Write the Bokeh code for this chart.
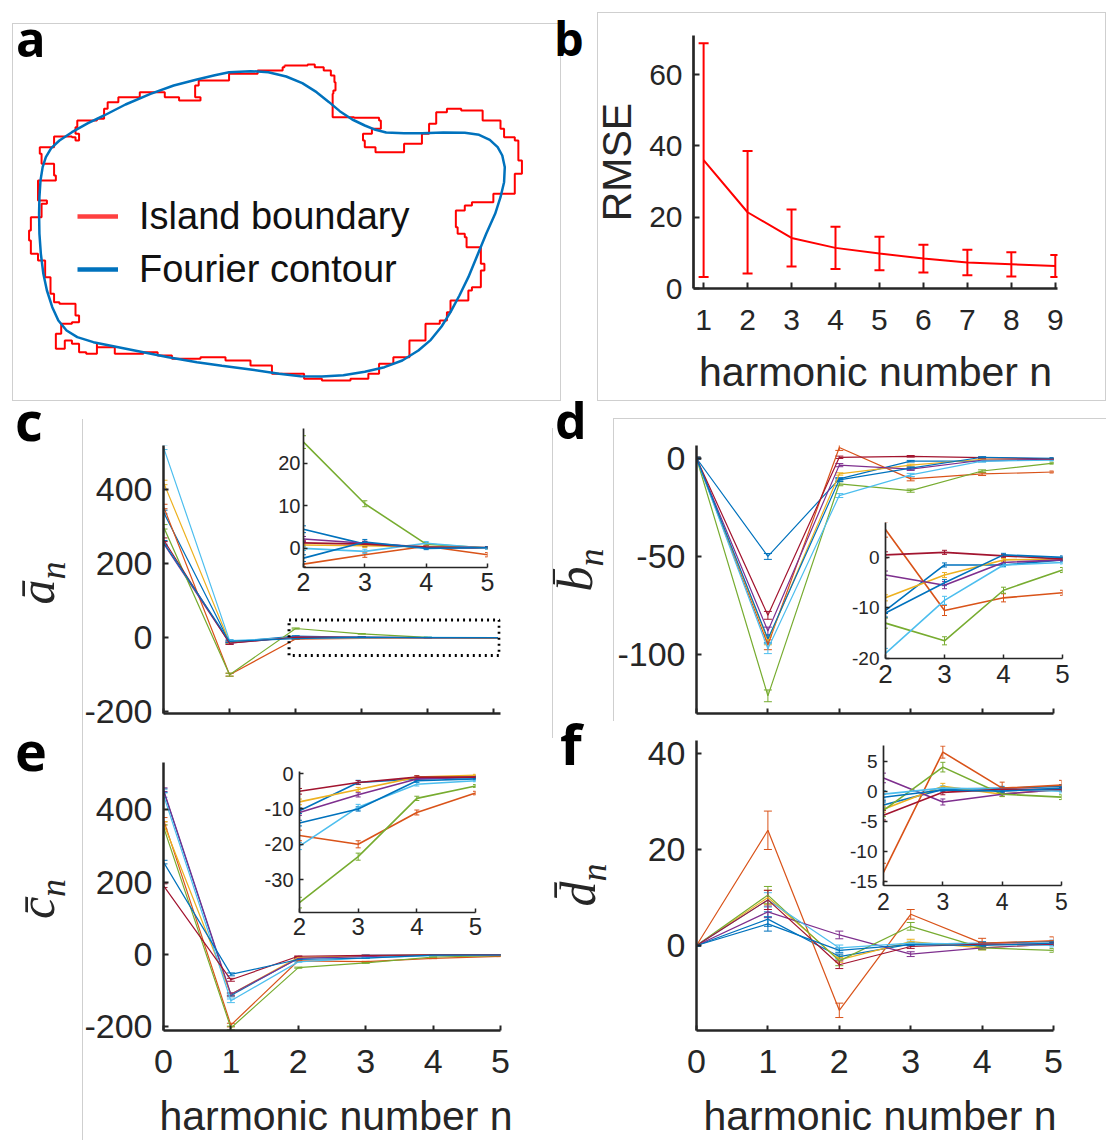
from bokeh.plotting import figure
from bokeh.models import (ColumnDataSource, Range1d, FixedTicker, Whisker, TeeHead,
                          Legend, LegendItem, BoxAnnotation, Div, GridBox)
from bokeh.embed import file_html
from bokeh.resources import INLINE

# ---------------- data ----------------
# panel a: traced island boundary and its Fourier contour (image units, y downward)
ISLAND_X = [795, 860, 880, 905, 925, 935, 938, 932, 930, 990, 1060, 1065, 1040, 1015, 1020, 1050, 1120, 1130,
            1180, 1200, 1220, 1250, 1290, 1350, 1400, 1410, 1440, 1450, 1460, 1440, 1440, 1380, 1320, 1300,
            1275, 1280, 1300, 1305, 1345, 1355, 1345, 1320, 1310, 1260, 1250, 1230, 1190, 1145, 1100, 1060,
            1030, 980, 900, 850, 760, 700, 630, 560, 480, 440, 400, 320, 270, 270, 240, 220, 200, 180, 155,
            170, 200, 220, 210, 165, 150, 140, 125, 105, 85, 80, 85, 115, 130, 105, 105, 155, 150, 115, 110,
            150, 200, 210, 220, 210, 215, 270, 290, 300, 330, 390, 420, 460, 500, 550, 560, 545, 555, 600,
            640, 720, 790, 795]
ISLAND_Y = [195, 192, 200, 210, 225, 245, 270, 280, 350, 352, 360, 385, 400, 420, 440, 455, 455, 430,
            400, 370, 335, 325, 330, 360, 385, 410, 420, 480, 520, 560, 580, 605, 615, 630,
            680, 700, 710, 740, 790, 810, 860, 870, 900, 935, 960, 970, 1020, 1070, 1090, 1120,
            1135, 1140, 1135, 1120, 1095, 1080, 1070, 1075, 1065, 1055, 1060, 1040, 1030, 1060, 1055, 1030, 1020, 1045, 1000,
            970, 965, 945, 910, 905, 880, 830, 780, 760, 720, 690, 650, 610, 600, 580, 540, 525, 490, 460, 440,
            408, 410, 420, 400, 380, 360, 355, 325, 305, 290, 275, 275, 290, 300, 300, 290, 255, 240, 240,
            220, 210, 200, 195]
FOURIER_X = [108, 109, 112, 118, 127, 142, 165, 200, 245, 290, 350, 420, 485, 550, 600, 640, 700, 750, 800, 845,
             885, 920, 950, 985, 1020, 1050, 1080, 1130, 1180, 1240, 1300, 1340, 1370, 1392, 1405, 1412, 1410,
             1400, 1385, 1360, 1335, 1310, 1285, 1260, 1235, 1205, 1170, 1125, 1075, 1020, 960, 900, 840, 780,
             700, 620, 550, 470, 400, 330, 260, 215, 185, 162, 145, 130, 120, 113, 109, 108]
FOURIER_Y = [640, 590, 540, 500, 470, 443, 420, 395, 368, 345, 312, 280, 255, 237, 224, 215, 212, 215, 228, 248,
             275, 305, 332, 357, 375, 388, 396, 398, 398, 396, 397, 403, 418, 440, 465, 500, 545,
             590, 640, 700, 765, 830, 885, 935, 978, 1018, 1050, 1080, 1100, 1114, 1124, 1128, 1127, 1120,
             1107, 1096, 1085, 1070, 1055, 1040, 1025, 1010, 990, 960, 920, 870, 820, 760, 700, 640]

# panel b
RMSE_N = [1, 2, 3, 4, 5, 6, 7, 8, 9]
RMSE = [36.0, 21.4, 14.2, 11.4, 9.8, 8.4, 7.3, 6.8, 6.3]
RMSE_ERR = [32.8, 17.2, 8.0, 5.9, 4.7, 3.9, 3.6, 3.4, 3.1]

# panels c-f: 8 series, harmonics 0..5
HARMONICS = [0, 1, 2, 3, 4, 5]
COLORS = ["#0072BD", "#D95319", "#EDB120", "#7E2F8E", "#77AC30", "#4DBEEE", "#A2142F", "#0072BD"]

A_MEAN = [[340, -12, 4.5, 1.0, 0.2, 0.1],
          [355, -100, -3.7, -1.5, 0.5, -1.5],
          [420, -12, 0.8, 0.6, 0.4, 0.1],
          [255, -15, 2.2, 1.2, 0.3, 0.1],
          [300, -100, 25.0, 10.5, 1.0, 0.1],
          [515, -8, 0.0, -0.7, 1.2, 0.0],
          [265, -15, 1.3, 1.0, 0.3, 0.2],
          [258, -10, -2.3, 1.5, 0.0, 0.2]]
A_ERR = [[5, 3, 0.8, 0.6, 0.3, 0.2],
         [6, 4, 0.6, 0.6, 0.3, 0.5],
         [6, 3, 0.5, 0.4, 0.3, 0.2],
         [5, 3, 0.6, 0.5, 0.3, 0.2],
         [6, 4, 1.5, 0.7, 0.4, 0.2],
         [6, 3, 0.5, 0.5, 0.4, 0.2],
         [5, 3, 0.5, 0.5, 0.3, 0.2],
         [5, 3, 0.8, 0.6, 0.3, 0.2]]

B_MEAN = [[0, -50, -10.5, -1.5, -1.5, -0.5],
          [0, -95, 5.5, -10.5, -8.0, -7.0],
          [0, -93, -8.0, -3.5, -0.5, -0.3],
          [0, -88, -3.5, -5.5, -1.0, -0.5],
          [0, -121, -13.0, -16.5, -6.5, -2.5],
          [0, -97, -19.0, -8.5, -1.5, -1.0],
          [0, -80, 0.5, 1.0, 0.3, -0.3],
          [0, -92, -11.0, -5.0, 0.5, 0.0]]
B_ERR = [[0.5, 1.5, 0.6, 0.4, 0.3, 0.3],
         [0.5, 2.5, 1.5, 1.0, 0.8, 0.5],
         [0.5, 2.0, 0.6, 0.5, 0.3, 0.3],
         [0.5, 2.0, 0.8, 0.7, 0.4, 0.3],
         [0.5, 3.0, 1.0, 0.8, 0.6, 0.5],
         [0.5, 2.5, 1.0, 0.8, 0.4, 0.3],
         [0.5, 2.0, 0.6, 0.4, 0.3, 0.3],
         [0.5, 2.0, 0.8, 0.6, 0.3, 0.3]]

C_MEAN = [[452, -113, -10.5, -2.5, -1.5, -1.0],
          [372, -195, -17.5, -20.0, -11.0, -5.5],
          [362, -110, -8.0, -4.5, -1.0, -0.5],
          [455, -110, -11.0, -6.0, -1.5, -1.0],
          [352, -203, -36.5, -23.5, -7.0, -3.5],
          [440, -128, -20.5, -9.5, -3.0, -2.0],
          [190, -70, -5.0, -2.5, -1.0, -1.0],
          [255, -55, -14.0, -10.0, -2.0, -1.5]]
C_ERR = [[5, 4, 0.8, 0.6, 0.4, 0.3],
         [6, 5, 1.5, 1.0, 0.7, 0.5],
         [5, 4, 0.8, 0.6, 0.4, 0.3],
         [5, 4, 0.8, 0.6, 0.4, 0.3],
         [6, 5, 1.5, 1.0, 0.6, 0.4],
         [6, 5, 1.0, 0.8, 0.5, 0.3],
         [5, 4, 0.8, 0.5, 0.4, 0.3],
         [5, 4, 0.8, 0.6, 0.4, 0.3]]

D_MEAN = [[0, 5.5, -2.3, 0.3, 0.5, 0.8],
          [0, 24.0, -13.5, 6.5, 0.5, 1.0],
          [0, 10.0, -3.0, 0.8, -0.5, 0.3],
          [0, 7.0, 2.2, -1.8, -0.5, 0.3],
          [0, 10.5, -3.2, 4.0, -0.5, -1.0],
          [0, 9.5, -0.5, 0.5, 0.3, 0.0],
          [0, 9.5, -4.0, -0.2, 0.3, 0.3],
          [0, 4.5, -1.0, 0.2, 0.0, 0.5]]
D_ERR = [[0.2, 1.5, 0.5, 0.3, 0.3, 0.3],
         [0.2, 4.0, 1.5, 1.0, 1.0, 0.8],
         [0.2, 1.5, 0.5, 0.5, 0.4, 0.3],
         [0.2, 1.2, 0.8, 0.5, 0.3, 0.3],
         [0.2, 1.8, 1.0, 0.8, 0.4, 0.4],
         [0.2, 1.5, 0.6, 0.4, 0.3, 0.3],
         [0.2, 2.0, 0.8, 0.4, 0.3, 0.3],
         [0.2, 1.5, 0.5, 0.3, 0.3, 0.3]]

XLABEL = "harmonic number n"
YLABELS = ["\u0101", "b\u0304", "c\u0304", "d\u0304"]  # mean coefficient symbols, subscript n

# ---------------- styling helpers ----------------
AX = "#262626"
FONT = "Liberation Sans"
MATHFONT = "Liberation Serif"
items = []  # (model, x0, y0, x1, y1) in page pixels


def make_fig(canvas, frame, xr, yr, axes=True):
    cx0, cy0, cx1, cy1 = canvas
    fx0, fy0, fx1, fy1 = frame
    kw = {}
    if not axes:
        kw = dict(x_axis_location=None, y_axis_location=None)
    p = figure(width=cx1 - cx0, height=cy1 - cy0, x_range=Range1d(*xr), y_range=Range1d(*yr),
               output_backend="svg", toolbar_location=None,
               min_border_left=fx0 - cx0, min_border_right=cx1 - fx1,
               min_border_top=fy0 - cy0, min_border_bottom=cy1 - fy1, **kw)
    p.outline_line_color = None
    p.grid.visible = False
    p.background_fill_alpha = 0
    p.border_fill_alpha = 0
    items.append((p, cx0, cy0, cx1, cy1))
    return p


def style_axes(p, xticks, yticks, tick_font, xstand, ystand, ax_w=2.5, tick_in=5, xtick_font=None):
    for ax in (p.xaxis[0], p.yaxis[0]):
        ax.axis_line_color = AX
        ax.axis_line_width = ax_w
        ax.major_tick_line_color = AX
        ax.major_tick_line_width = 2 if ax_w > 2 else 1.5
        ax.major_tick_in = tick_in
        ax.major_tick_out = 0
        ax.minor_tick_line_color = None
        ax.major_label_text_color = AX
        ax.major_label_text_font = FONT
        ax.major_label_text_font_size = tick_font
        ax.axis_label_text_color = AX
        ax.axis_label_text_font = FONT
        ax.axis_label_text_font_size = "41px"
        ax.axis_label_text_font_style = "normal"
    if xtick_font:
        p.xaxis[0].major_label_text_font_size = xtick_font
    p.xaxis[0].ticker = FixedTicker(ticks=xticks)
    p.yaxis[0].ticker = FixedTicker(ticks=yticks)
    p.yaxis[0].major_label_overrides = {t: f"{t:g}" for t in yticks}
    p.xaxis[0].major_label_standoff = xstand
    p.yaxis[0].major_label_standoff = ystand


def add_series(p, xs, ys, es, color, lw, cap, cw):
    src = ColumnDataSource(dict(x=xs, y=ys, lo=[y - e for y, e in zip(ys, es)],
                                hi=[y + e for y, e in zip(ys, es)]))
    p.line("x", "y", source=src, line_color=color, line_width=lw)
    w = Whisker(base="x", lower="lo", upper="hi", source=src, line_color=color, line_width=cw,
                upper_head=TeeHead(size=cap, line_color=color, line_width=cw),
                lower_head=TeeHead(size=cap, line_color=color, line_width=cw))
    p.add_layout(w)


# ---------------- panel a ----------------
pa = make_fig((7, 18, 555, 395), (7, 18, 555, 395), (19.6, 1554), (1185, 54), axes=False)
pa.step(ISLAND_X, ISLAND_Y, mode="after", line_color="#ff0000", line_width=2)
pa.line(FOURIER_X, FOURIER_Y, line_color="#0072BD", line_width=2.5)
nan = float("nan")
dr = pa.line([nan], [nan], line_color="#ff4040", line_width=4.5)
db = pa.line([nan], [nan], line_color="#0072BD", line_width=4.5)
leg = Legend(items=[LegendItem(label="Island boundary", renderers=[dr]),
                    LegendItem(label="Fourier contour", renderers=[db])],
             location=(70, 104), glyph_width=41, glyph_height=44, label_height=44, spacing=9,
             label_standoff=21, padding=0, margin=0, border_line_alpha=0, background_fill_alpha=0,
             label_text_font=FONT, label_text_font_size="38px", label_text_color="#111111")
pa.add_layout(leg)

# ---------------- panel b ----------------
pb = make_fig((560, 7, 1100, 410), (693, 35, 1057, 288), (0.77, 9.05), (0, 71))
style_axes(pb, RMSE_N, [0, 20, 40, 60], "30px", 21, 11, ax_w=2.7, tick_in=6)
pb.xaxis[0].axis_label = XLABEL
pb.xaxis[0].axis_label_standoff = 16
pb.yaxis[0].axis_label = "RMSE"
pb.yaxis[0].axis_label_standoff = 6
add_series(pb, RMSE_N, RMSE, RMSE_ERR, "#ff0000", 2, 10, 2)


def main_panel(canvas, frame, xr, yr, yticks, means, errs, show_x):
    p = make_fig(canvas, frame, xr, yr)
    style_axes(p, HARMONICS, yticks, "34px", 19 if show_x else 0, 11)
    if not show_x:
        p.xaxis[0].major_label_overrides = {h: "" for h in HARMONICS}
    for m, e, c in zip(means, errs, COLORS):
        add_series(p, HARMONICS, m, e, c, 1.2, 8, 1)
    return p


def inset_panel(canvas, frame, yr, yticks, means, errs, yfont, xfont, xst, yst):
    p = make_fig(canvas, frame, (2, 5), yr)
    style_axes(p, [2, 3, 4, 5], yticks, yfont, xst, yst, ax_w=1.7, tick_in=4, xtick_font=xfont)
    for m, e, c in zip(means, errs, COLORS):
        add_series(p, HARMONICS[2:], m[2:], e[2:], c, 1.6, 5, 1)
    return p


pc = main_panel((10, 400, 548, 760), (163, 445, 507, 713), (0, 5.1), (-205, 520), [-200, 0, 200, 400],
                A_MEAN, A_ERR, False)
pc.add_layout(BoxAnnotation(left=1.9, right=5.08, bottom=-48, top=48, fill_alpha=0, line_alpha=1,
                            line_color="black", line_width=3, line_dash="dotted"))
pd = main_panel((548, 400, 1106, 760), (696, 442, 1053, 713), (0, 5), (-130, 6.5), [-100, -50, 0],
                B_MEAN, B_ERR, False)
pe = main_panel((10, 738, 548, 1140), (163, 762, 500, 1030), (0, 5), (-210, 530), [-200, 0, 200, 400],
                C_MEAN, C_ERR, True)
pf = main_panel((548, 725, 1106, 1140), (696, 740, 1053, 1033), (0, 5), (-17.7, 42.7), [0, 20, 40],
                D_MEAN, D_ERR, True)

inset_panel((265, 420, 495, 612), (303, 428, 487, 567), (-4.5, 28.2), [0, 10, 20],
            A_MEAN, A_ERR, "20px", "25px", 5, 3)
inset_panel((845, 512, 1070, 700), (885, 522, 1062, 658), (-20, 6.9), [-20, -10, 0],
            B_MEAN, B_ERR, "19px", "26px", 6, 6)
inset_panel((255, 760, 482, 955), (299, 771, 475, 912), (-39.3, 0.6), [-30, -20, -10, 0],
            C_MEAN, C_ERR, "20px", "24px", 5, 6)
inset_panel((840, 732, 1068, 930), (883, 745, 1061, 885), (-15.7, 7.6), [-15, -10, -5, 0, 5],
            D_MEAN, D_ERR, "19px", "23px", 7, 6)

# x-axis titles of the bottom row
for cx in (331, 875):
    d = Div(text=XLABEL, width=400, height=45,
            styles={"font-family": FONT, "font-size": "41px", "line-height": "1", "color": AX,
                    "text-align": "center", "white-space": "nowrap"})
    items.append((d, cx - 200, 1091, cx + 200, 1136))

# rotated y-axis titles of panels c-f (box centre = rotation centre)
for sym, (cx, cy) in zip(YLABELS, [(46, 578), (584, 565), (46, 894), (587, 880)]):
    w, h = 80, 70
    d = Div(text=f"{sym}<sub style='font-size:0.72em'>n</sub>", width=w, height=h,
            styles={"font-family": MATHFONT, "font-style": "italic", "font-size": "50px",
                    "line-height": f"{h}px", "text-align": "center", "color": AX,
                    "white-space": "nowrap", "transform": "rotate(-90deg) translateY(-14px)"})
    items.append((d, cx - w // 2, cy - h // 2, cx + w // 2, cy + h // 2))

# ---------------- frames and panel letters ----------------
def line_div(box, css):
    x0, y0, x1, y1 = box
    d = Div(text="", width=x1 - x0, height=y1 - y0,
            styles=dict({"box-sizing": "border-box"}, **css))
    items.append((d, x0, y0, x1, y1))


line_div((7, 18, 556, 396), {"border": "1px solid #cfcfcf"})
line_div((592, 7, 1101, 396), {"border": "1px solid #cfcfcf"})
line_div((77, 414, 79, 1137), {"border-left": "1px solid #cfcfcf"})
line_div((608, 413, 1101, 716), {"border-left": "1px solid #cfcfcf", "border-top": "1px solid #cfcfcf"})
line_div((547, 423, 549, 733), {"border-left": "1px solid #cfcfcf"})

for letter, x0, y0, fs in [("a", 11, 9, 49), ("b", 549, 10, 47), ("c", 10, 388, 54),
                           ("d", 550, 390, 50), ("e", 10, 718, 54), ("f", 555, 710, 56)]:
    d = Div(text=letter, width=60, height=70,
            styles={"font-family": "Open Sans", "font-weight": "bold", "font-size": f"{fs}px",
                    "line-height": "1", "color": "black"})
    items.append((d, x0, y0, x0 + 60, y0 + 70))

# ---------------- grid assembly ----------------
xs = sorted({0, 1106} | {v for it in items for v in (it[1], it[3])})
ys = sorted({0, 1140} | {v for it in items for v in (it[2], it[4])})
cols = [f"{b - a}px" for a, b in zip(xs, xs[1:])]
rows = [f"{b - a}px" for a, b in zip(ys, ys[1:])]
children = []
for m, x0, y0, x1, y1 in items:
    r, c = ys.index(y0), xs.index(x0)
    children.append((m, r, c, ys.index(y1) - r, xs.index(x1) - c))

grid = GridBox(children=children, rows=rows, cols=cols, spacing=0)
open("out.html", "w").write(file_html(grid, INLINE))
